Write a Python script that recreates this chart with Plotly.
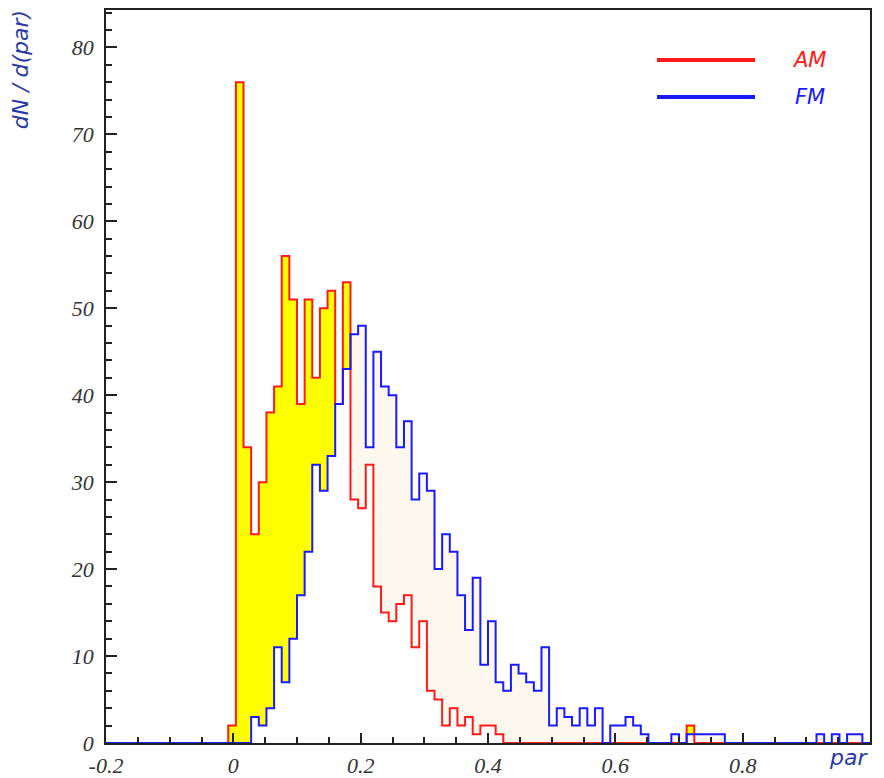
import numpy as np
import plotly.graph_objects as go

# Histogram binning: 100 bins of width 0.012 from -0.2 to 1.0
x_min, x_max, n_bins = -0.2, 1.0, 100

# Bin contents (entries per bin), ten bins per row
am_counts = [
    0, 0, 0, 0, 0, 0, 0, 0, 0, 0,
    0, 0, 0, 0, 0, 0, 2, 76, 34, 24,
    30, 38, 41, 56, 51, 39, 51, 42, 50, 52,
    39, 53, 28, 27, 32, 18, 15, 14, 16, 17,
    11, 14, 6, 5, 2, 4, 2, 3, 1, 2,
    2, 1, 0, 0, 0, 0, 0, 0, 0, 0,
    0, 0, 0, 0, 0, 0, 0, 0, 0, 0,
    0, 0, 0, 0, 0, 0, 2, 0, 0, 0,
    0, 0, 0, 0, 0, 0, 0, 0, 0, 0,
    0, 0, 0, 0, 0, 0, 0, 0, 0, 0,
]
fm_counts = [
    0, 0, 0, 0, 0, 0, 0, 0, 0, 0,
    0, 0, 0, 0, 0, 0, 0, 0, 0, 3,
    2, 4, 11, 7, 12, 17, 22, 32, 29, 33,
    39, 43, 47, 48, 34, 45, 41, 40, 34, 37,
    28, 31, 29, 20, 24, 22, 17, 13, 19, 9,
    14, 7, 6, 9, 8, 7, 6, 11, 2, 4,
    3, 2, 4, 2, 4, 0, 2, 2, 3, 2,
    1, 0, 0, 0, 1, 0, 1, 1, 1, 1,
    1, 0, 0, 0, 0, 0, 0, 0, 0, 0,
    0, 0, 0, 1, 0, 1, 0, 1, 1, 0,
]

series_names = ["AM", "FM"]

major_ticks = [-0.2, 0.0, 0.2, 0.4, 0.6, 0.8]
major_labels = ["-0.2", "0", "0.2", "0.4", "0.6", "0.8"]

AM_COLOR = "#ff1a1a"
FM_COLOR = "#1a1aff"
AM_FILL = "#ffff00"
FM_FILL = "#fdf8ed"
TITLE_COLOR = "#2a3aa8"

edges = np.linspace(x_min, x_max, n_bins + 1)
width = edges[1] - edges[0]
centers = edges[:-1] + width / 2
am = np.array(am_counts, dtype=float)
fm = np.array(fm_counts, dtype=float)

fig = go.Figure()

# Area between the two histograms: yellow where AM is higher, cream where FM is higher
fig.add_trace(go.Bar(
    x=centers,
    base=np.minimum(am, fm),
    y=np.abs(am - fm),
    width=width,
    marker=dict(color=np.where(am > fm, AM_FILL, FM_FILL), line=dict(width=0)),
    showlegend=False,
    hoverinfo="skip",
))

# Step outlines of the two histograms
for counts, color, name in ((am, AM_COLOR, series_names[0]), (fm, FM_COLOR, series_names[1])):
    fig.add_trace(go.Scatter(
        x=edges,
        y=np.append(counts, counts[-1]),
        mode="lines",
        line=dict(color=color, width=2, shape="hv"),
        showlegend=False,
        name=name,
    ))

tick_font = dict(family="Liberation Serif", size=22, color="#333333", style="italic")
axis_common = dict(
    showline=True, linecolor="#222222", linewidth=1.5, mirror=True,
    ticks="inside", tickcolor="#222222", tickwidth=1.5,
    showgrid=False, zeroline=False, tickfont=tick_font, automargin=False,
)

# Legend box in the upper right: a line sample followed by the series name
legend_shapes = []
legend_notes = []
for i, (name, color) in enumerate(zip(series_names, (AM_COLOR, FM_COLOR))):
    ly = 0.9318 - i * 0.0505
    legend_shapes.append(dict(
        type="line", xref="paper", yref="paper",
        x0=0.7212, x1=0.8495, y0=ly, y1=ly,
        line=dict(color=color, width=4),
    ))
    legend_notes.append(dict(
        text=name, xref="paper", yref="paper", x=0.8953 + i * 0.004, y=ly,
        xanchor="left", yanchor="middle", showarrow=False,
        font=dict(family="DejaVu Sans", size=21, color=color, style="italic"),
    ))

fig.update_layout(
    width=884, height=778,
    margin=dict(l=106, r=14, t=10, b=35),
    paper_bgcolor="white", plot_bgcolor="white",
    barmode="overlay", bargap=0,
    showlegend=False,
    xaxis=dict(
        range=[x_min, x_max],
        tickmode="array", tickvals=major_ticks, ticktext=major_labels,
        ticklen=10, ticklabelstandoff=2,
        minor=dict(tickmode="linear", tick0=0, dtick=0.05, ticks="inside",
                   ticklen=6, tickcolor="#222222", tickwidth=1.5),
        **axis_common,
    ),
    yaxis=dict(
        range=[0, 84.3],
        tickmode="linear", tick0=0, dtick=10,
        ticklen=11, ticklabelstandoff=6,
        minor=dict(tickmode="linear", tick0=0, dtick=2, ticks="inside",
                   ticklen=6, tickcolor="#222222", tickwidth=1.5),
        **axis_common,
    ),
    shapes=legend_shapes,
    annotations=legend_notes + [
        dict(text="par", xref="paper", yref="paper", x=1.0, y=0,
             xanchor="right", yanchor="top", yshift=0, showarrow=False,
             font=dict(family="DejaVu Sans", size=22, color=TITLE_COLOR, style="italic")),
        dict(text="dN / d(par)", xref="paper", yref="paper", x=-0.1126, y=1.003,
             xanchor="center", yanchor="top", textangle=-90, showarrow=False,
             font=dict(family="DejaVu Sans", size=22, color=TITLE_COLOR, style="italic")),
    ],
)

fig.write_html("out.html")
